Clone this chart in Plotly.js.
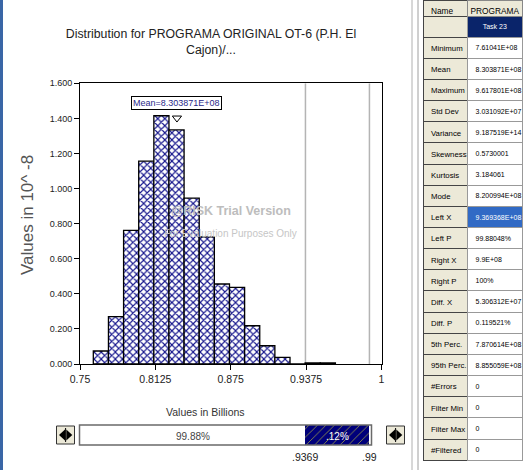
<!DOCTYPE html>
<html>
<head>
<meta charset="utf-8">
<script src="https://cdn.plot.ly/plotly-3.0.1.min.js"></script>
<style>html,body{margin:0;padding:0;background:#fff;}#chart{width:523px;height:470px;}</style>
</head>
<body>
<div id="chart"></div>
<script>
// ---- data ----
const binCenters = [0.76731, 0.77986, 0.79241, 0.80495, 0.81750, 0.83004, 0.84259, 0.85514,
                    0.86768, 0.88023, 0.89277, 0.90532, 0.91787, 0.93041, 0.94296, 0.95550];
const density    = [0.074, 0.270, 0.762, 1.156, 1.415, 1.334, 0.945, 0.725,
                    0.456, 0.437, 0.218, 0.104, 0.038, 0.000, 0.006, 0.006];
const binWidth = 0.012546;
const xTickVals = [0.75, 0.8125, 0.875, 0.9375, 1];
const xTickText = ["0.75", "0.8125", "0.875", "0.9375", "1"];
const yTickVals = [0, 0.2, 0.4, 0.6, 0.8, 1.0, 1.2, 1.4, 1.6];
const yTickText = ["0.000", "0.200", "0.400", "0.600", "0.800", "1.000", "1.200", "1.400", "1.600"];
const meanVal = 0.8303871;
const meanLabel = "Mean=8.303871E+08";
const leftX = 0.9369368, rightX = 0.99;
const leftPText = "99.88%", diffPText = ".12%";
const leftXText = ".9369", rightXText = ".99";
const statHeader = ["Name", "PROGRAMA"];
const statLabels = ["", "Minimum", "Mean", "Maximum", "Std Dev", "Variance", "Skewness", "Kurtosis",
                    "Mode", "Left X", "Left P", "Right X", "Right P", "Diff. X", "Diff. P",
                    "5th Perc.", "95th Perc.", "#Errors", "Filter Min", "Filter Max", "#Filtered"];
const statValues = ["Task 23", "7.61041E+08", "8.303871E+08", "9.617801E+08", "3.031092E+07",
                    "9.187519E+14", "0.5730001", "3.184061", "8.200994E+08", "9.369368E+08",
                    "99.88048%", "9.9E+08", "100%", "5.306312E+07", "0.119521%", "7.870614E+08",
                    "8.855059E+08", "0", "0", "0", "0"];

// ---- helpers ----
const W = 523, H = 470;
const px = x => x / W;
const py = y => 1 - y / H;
const SANS = "Liberation Sans, Arial, sans-serif";
const nb = s => s.replace(/ /g, "\u00a0");

const selRow = statLabels.indexOf("Left X");
const fillCol1 = statValues.map((v, i) => i === 0 ? "#0a246a" : (i === selRow ? "#316ac5" : "#ffffff"));
const fontCol1 = statValues.map((v, i) => (i === 0 || i === selRow) ? "#ffffff" : "#000000");
const alignCol1 = statValues.map((v, i) => i === 0 ? "center" : "left");

const traces = [
  {
    type: "bar", x: binCenters, y: density, width: binCenters.map(() => binWidth),
    marker: { color: "#ffffff", line: { color: "#000000", width: 1.3 },
              pattern: { shape: "x", fgcolor: "#14148c", bgcolor: "#ffffff", size: 5, solidity: 0.4 } },
    hoverinfo: "skip", showlegend: false
  },
  {
    type: "scatter", mode: "markers", x: [0.75, leftX, rightX, 1], y: [1.612, 1.612, 1.612, 1.612],
    marker: { symbol: ["triangle-down-open", "triangle-down", "triangle-down", "triangle-down-open"],
              color: ["#333", "#8a8a8a", "#8a8a8a", "#333"], size: 7, line: { width: 1 } },
    cliponaxis: false, hoverinfo: "skip", showlegend: false
  },
  {
    type: "scatter", mode: "markers", x: [meanVal], y: [1.402],
    marker: { symbol: "triangle-down-open", color: "#000", size: 8, line: { width: 1 } },
    cliponaxis: false, hoverinfo: "skip", showlegend: false
  },
  {
    type: "bar", orientation: "h", xaxis: "x", yaxis: "y2", y: [0], x: [rightX - leftX], base: [leftX], width: [1],
    marker: { color: "#00007a", line: { width: 0 },
              pattern: { shape: "/", fgcolor: "#8c8c4a", bgcolor: "#00007a", size: 6, solidity: 0.15 } },
    hoverinfo: "skip", showlegend: false
  },
  {
    type: "table", domain: { x: [px(423), 1], y: [0, 1] }, columnwidth: [45, 55],
    header: { values: statHeader.map(nb), height: 16, align: ["left", "center"],
              fill: { color: ["#ece9d8", "#ece9d8"] }, line: { color: ["#444", "#888"], width: 1 },
              font: { family: SANS, size: 8.3, color: "#000" } },
    cells: { values: [statLabels.map(nb), statValues.map(nb)], height: 21.15,
             align: [statLabels.map(() => "left"), alignCol1],
             fill: { color: [statLabels.map(() => "#ece9d8"), fillCol1] },
             line: { color: ["#444", "#999"], width: 1 },
             font: { family: SANS, size: [7.8, 7.0], color: [statLabels.map(() => "#000"), fontCol1] } }
  }
];

const shapes = [
  { type: "rect", xref: "paper", yref: "paper", x0: 0, x1: px(3), y0: 0, y1: 1, fillcolor: "#3a66a6", line: { width: 0 } },
  { type: "line", xref: "paper", yref: "paper", x0: px(412), x1: px(412), y0: 0, y1: 1, line: { color: "#b0b0b0", width: 1 } },
  { type: "line", xref: "paper", yref: "paper", x0: px(418), x1: px(418), y0: 0, y1: 1, line: { color: "#a0a0a0", width: 1 } },
  { type: "line", xref: "x", yref: "y", x0: leftX, x1: leftX, y0: 0, y1: 1.6, line: { color: "#b4b4b4", width: 1.5 }, layer: "below" },
  { type: "line", xref: "x", yref: "y", x0: rightX, x1: rightX, y0: 0, y1: 1.6, line: { color: "#b4b4b4", width: 1.5 }, layer: "below" },
  { type: "rect", xref: "paper", yref: "paper", x0: px(79.5), x1: px(371.5), y0: py(445), y1: py(425),
    fillcolor: "rgba(0,0,0,0)", line: { color: "#6a6a6a", width: 1.5 }, layer: "above" },
  { type: "rect", xref: "paper", yref: "paper", x0: px(56.5), x1: px(74.5), y0: py(444), y1: py(426),
    fillcolor: "#ece9d8", line: { color: "#333", width: 1 } },
  { type: "rect", xref: "paper", yref: "paper", x0: px(386.5), x1: px(404.5), y0: py(444), y1: py(426),
    fillcolor: "#ece9d8", line: { color: "#333", width: 1 } }
];
function btnTris(x0) {
  const c = 435;
  const l = `M ${px(x0 + 2.5)} ${py(c)} L ${px(x0 + 8.5)} ${py(c - 5.5)} L ${px(x0 + 8.5)} ${py(c + 5.5)} Z`;
  const r = `M ${px(x0 + 9.8)} ${py(c - 5.5)} L ${px(x0 + 15.8)} ${py(c)} L ${px(x0 + 9.8)} ${py(c + 5.5)} Z`;
  shapes.push({ type: "path", xref: "paper", yref: "paper", path: l, fillcolor: "#000", line: { width: 0 } });
  shapes.push({ type: "path", xref: "paper", yref: "paper", path: r, fillcolor: "#000", line: { width: 0 } });
  shapes.push({ type: "line", xref: "paper", yref: "paper", x0: px(x0 + 9.1), x1: px(x0 + 9.1), y0: py(428), y1: py(442), line: { color: "#000", width: 1 } });
}
btnTris(56.5);
btnTris(386.5);

const C = { xanchor: "center", yanchor: "middle", showarrow: false };
const annotations = [
  Object.assign({ text: meanLabel, xref: "x", yref: "y", x: meanVal, y: 1.488,
    bgcolor: "#fff", bordercolor: "#000", borderwidth: 1, borderpad: 1,
    font: { family: SANS, size: 9, color: "#2a2a8a" } }, C),
  Object.assign({ text: "@RISK Trial Version", xref: "paper", yref: "paper", x: px(231), y: py(211),
    font: { family: SANS, size: 12.5, color: "#bdbdbd", weight: "bold" } }, C),
  Object.assign({ text: "For Evaluation Purposes Only", xref: "paper", yref: "paper", x: px(230), y: py(233),
    font: { family: SANS, size: 10, color: "#c6c6c6" } }, C),
  Object.assign({ text: "Values in 10^ -8", xref: "paper", yref: "paper", x: px(28), y: py(215), textangle: -90,
    font: { family: SANS, size: 17, color: "#555" } }, C),
  Object.assign({ text: "Values in Billions", xref: "paper", yref: "paper", x: px(205), y: py(412),
    font: { family: SANS, size: 10.5, color: "#333" } }, C),
  Object.assign({ text: leftPText, xref: "x", yref: "paper", x: (0.75 + leftX) / 2, y: py(436),
    font: { family: SANS, size: 10, color: "#444" } }, C),
  Object.assign({ text: diffPText, xref: "x", yref: "paper", x: (leftX + rightX) / 2, y: py(436),
    font: { family: SANS, size: 10, color: "#fff" } }, C),
  Object.assign({ text: leftXText, xref: "x", yref: "paper", x: leftX, y: py(457),
    font: { family: SANS, size: 10.5, color: "#222" } }, C),
  Object.assign({ text: rightXText, xref: "x", yref: "paper", x: rightX, y: py(457),
    font: { family: SANS, size: 10.5, color: "#222" } }, C)
];

const layout = {
  width: W, height: H, margin: { l: 0, r: 0, t: 0, b: 0 },
  paper_bgcolor: "#fff", plot_bgcolor: "#fff", showlegend: false, bargap: 0,
  title: { text: "Distribution for PROGRAMA ORIGINAL OT-6 (P.H. El<br>Cajon)/...",
           x: px(211), xanchor: "center", y: py(38), yanchor: "middle", yref: "container",
           font: { family: SANS, size: 12.3, color: "#222" } },
  xaxis: { domain: [px(80), px(381.5)], range: [0.75, 1], anchor: "y",
           tickvals: xTickVals, ticktext: xTickText, ticks: "outside", ticklen: 5, tickcolor: "#000",
           showline: true, linecolor: "#000", linewidth: 1, mirror: true, showgrid: false, zeroline: false,
           tickfont: { family: SANS, size: 10.5, color: "#222" }, automargin: false, fixedrange: true },
  yaxis: { domain: [py(364), py(83.3)], range: [0, 1.6], anchor: "x",
           tickvals: yTickVals, ticktext: yTickText, ticks: "outside", ticklen: 5, tickcolor: "#000",
           showline: true, linecolor: "#000", linewidth: 1, mirror: true, showgrid: false, zeroline: false,
           tickfont: { family: SANS, size: 9, color: "#222" }, automargin: false, fixedrange: true },
  yaxis2: { domain: [py(445), py(425)], range: [-0.5, 0.5], anchor: "x", visible: false, fixedrange: true },
  shapes: shapes, annotations: annotations
};

Plotly.newPlot("chart", traces, layout, { displayModeBar: false, staticPlot: true });
</script>
</body>
</html>
